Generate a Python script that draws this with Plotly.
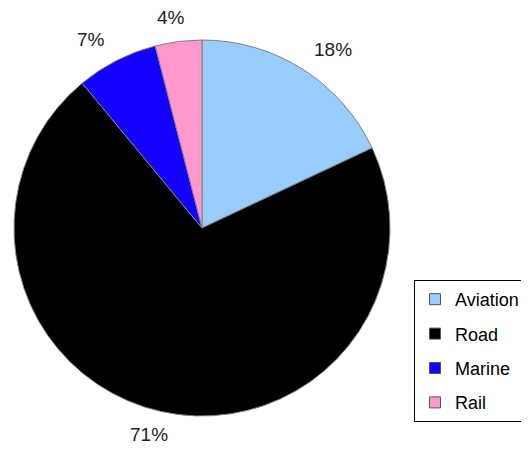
import math
import plotly.graph_objects as go

categories = ["Aviation", "Road", "Marine", "Rail"]
values = [18, 71, 7, 4]
colors = ["#99CCFF", "#000000", "#1400FF", "#FF99CC"]

# the page body has an 8px margin, so the figure is drawn 8px in from the window corner
OFF = 8
W, H = 529 - OFF, 450 - OFF
cx, cy, r = 202 - OFF, 228 - OFF, 188
FONT = "Liberation Sans, Arial, sans-serif"

fig = go.Figure(go.Pie(
    labels=categories,
    values=values,
    sort=False,
    direction="clockwise",
    rotation=0,
    marker=dict(colors=colors, line=dict(color="#808080", width=1)),
    textinfo="none",
    showlegend=False,
    domain=dict(x=[(cx - r) / W, (cx + r) / W], y=[(H - cy - r) / H, (H - cy + r) / H]),
    hoverinfo="label+percent",
))

# legend entries (one per category, own group so spacing can be set)
for name, col in zip(categories, colors):
    fig.add_trace(go.Scatter(
        x=[None], y=[None], mode="markers", name=name,
        legendgroup=name, showlegend=True,
        marker=dict(symbol="square", size=11, color=col,
                    line=dict(color="#555555", width=1)),
        hoverinfo="skip",
    ))

# percentage labels placed outside each slice, at the slice's mid-angle
total = sum(values)
cum = 0
for v in values:
    mid = (cum + v / 2) / total * 2 * math.pi
    cum += v
    lx = cx + 244 * math.sin(mid)
    ly = cy - 212 * math.cos(mid)
    fig.add_annotation(
        x=lx / W, y=(H - ly) / H, xref="paper", yref="paper",
        text=f"{round(v / total * 100)}%", showarrow=False,
        xanchor="center", yanchor="middle",
        font=dict(family=FONT, size=19, color="#222222"),
    )

fig.update_layout(
    width=W, height=H,
    margin=dict(l=0, r=0, t=0, b=0, autoexpand=False),
    paper_bgcolor="white",
    plot_bgcolor="white",
    xaxis=dict(visible=False),
    yaxis=dict(visible=False),
    showlegend=True,
    legend=dict(
        x=(414 - OFF) / W, y=(H - (280 - OFF)) / H, xanchor="left", yanchor="top",
        bgcolor="white", bordercolor="#000000", borderwidth=1,
        font=dict(family=FONT, size=18, color="#000000"),
        itemwidth=30, tracegroupgap=8, traceorder="grouped",
    ),
)

fig.write_html("out.html")
